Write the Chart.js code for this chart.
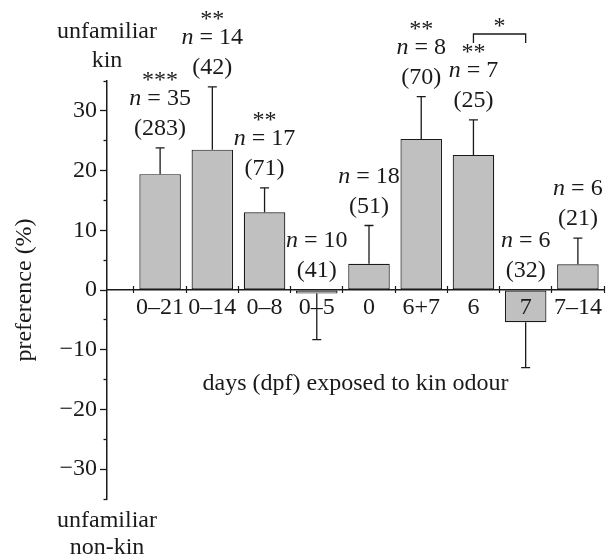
<!DOCTYPE html>
<html>
<head>
<meta charset="utf-8">
<script src="https://cdn.jsdelivr.net/npm/chart.js@4.4.1/dist/chart.umd.min.js"></script>
<style>
  html, body { margin: 0; padding: 0; background: #fff; }
  canvas { display: block; }
</style>
</head>
<body>
<canvas id="kinChart" width="608" height="557"></canvas>
<script>
// values
const categories = ["0–21", "0–14", "0–8", "0–5", "0", "6+7", "6", "7", "7–14"];
const preference = [19.4, 23.5, 13.0, -0.6, 4.4, 25.3, 22.6, -5.4, 4.3];
const errors = [4.4, 10.5, 4.1, 7.7, 6.4, 7.1, 5.9, 7.6, 4.4];
const nFish = ["35", "14", "17", "10", "18", "8", "7", "6", "6"];
const nTrials = ["283", "42", "71", "41", "51", "70", "25", "32", "21"];
const stars = ["***", "**", "**", "", "", "**", "**", "", ""];
const yTicks = [-30, -20, -10, 0, 10, 20, 30];
const yMinorTicks = [-35, -25, -15, -5, 5, 15, 25, 35];
const bracketPair = [6, 7];
const bracketStars = "*";

const INK = "#1a1a1a";
const SERIF = '"Liberation Serif", "Times New Roman", serif';
const FONT = "24px " + SERIF;
const ITALIC = "italic 24px " + SERIF;
const xMin = -1.017;
const xMax = 8.5;

Chart.defaults.font.family = SERIF;
Chart.defaults.font.size = 24;
Chart.defaults.color = INK;

function minus(v) {
  return v < 0 ? "\u2212" + Math.abs(v) : String(v);
}

function setTicks(list) {
  return function (scale) {
    scale.ticks = list.map(function (v) { return { value: v }; });
  };
}

function drawN(ctx, n, cx, cy) {
  ctx.font = ITALIC;
  const w1 = ctx.measureText("n").width;
  ctx.font = FONT;
  const rest = " = " + n;
  const w2 = ctx.measureText(rest).width;
  let left = cx - (w1 + w2) / 2;
  ctx.textAlign = "left";
  ctx.font = ITALIC;
  ctx.fillText("n", left, cy);
  ctx.font = FONT;
  ctx.fillText(rest, left + w1, cy);
}

const errorBars = {
  id: "errorBars",
  afterDatasetsDraw(chart) {
    const { ctx, scales: { x, y } } = chart;
    ctx.save();
    ctx.strokeStyle = INK;
    ctx.lineWidth = 1.3;
    preference.forEach(function (v, i) {
      const px = x.getPixelForValue(i);
      const end = v >= 0 ? v + errors[i] : v - errors[i];
      const y0 = y.getPixelForValue(v);
      const y1 = y.getPixelForValue(end);
      ctx.beginPath();
      ctx.moveTo(px, y0);
      ctx.lineTo(px, y1);
      ctx.moveTo(px - 4.5, y1);
      ctx.lineTo(px + 4.5, y1);
      ctx.stroke();
    });
    ctx.restore();
  }
};

const annotations = {
  id: "annotations",
  afterDraw(chart) {
    const { ctx, scales: { x, y }, chartArea } = chart;
    ctx.save();
    ctx.fillStyle = INK;
    ctx.strokeStyle = INK;
    ctx.textBaseline = "middle";

    preference.forEach(function (v, i) {
      const px = x.getPixelForValue(i);
      const anchor = v >= 0 ? y.getPixelForValue(v + errors[i]) : y.getPixelForValue(0);
      const countY = anchor - 19;
      const nY = countY - 30;
      drawN(ctx, nFish[i], px, nY);
      ctx.font = FONT;
      ctx.textAlign = "center";
      ctx.fillText("(" + nTrials[i] + ")", px, countY);
      if (stars[i]) ctx.fillText(stars[i], px, nY - 18);
    });

    // bracket between "6" and "7"
    const bx1 = x.getPixelForValue(bracketPair[0]);
    const bx2 = x.getPixelForValue(bracketPair[1]);
    const by = chartArea.top - 47;
    ctx.lineWidth = 1.3;
    ctx.beginPath();
    ctx.moveTo(bx1, by + 9);
    ctx.lineTo(bx1, by);
    ctx.lineTo(bx2, by);
    ctx.lineTo(bx2, by + 9);
    ctx.stroke();
    ctx.font = FONT;
    ctx.textAlign = "center";
    ctx.fillText(bracketStars, (bx1 + bx2) / 2, by - 7);

    // end labels of the y axis
    const ax = chartArea.left;
    ctx.fillText("unfamiliar", ax, chartArea.top - 49);
    ctx.fillText("kin", ax, chartArea.top - 20);
    ctx.fillText("unfamiliar", ax, chartArea.bottom + 22);
    ctx.fillText("non-kin", ax, chartArea.bottom + 49);
    ctx.restore();
  }
};

new Chart(document.getElementById("kinChart").getContext("2d"), {
  type: "bar",
  data: {
    datasets: [
      {
        data: categories.map(function (c, i) { return { x: i, y: preference[i] }; }),
        xAxisID: "x",
        yAxisID: "y",
        backgroundColor: "#c0c0c0",
        borderColor: INK,
        borderWidth: 1.2,
        borderSkipped: false,
        barPercentage: 0.795,
        categoryPercentage: 1
      }
    ]
  },
  options: {
    responsive: false,
    animation: false,
    layout: { padding: { left: 0, top: 81, right: 4, bottom: 58 } },
    plugins: { legend: { display: false }, tooltip: { enabled: false } },
    scales: {
      // tick marks between the categories, crossing the zero line
      x: {
        type: "linear",
        min: xMin,
        max: xMax,
        offset: false,
        position: { y: 0.6 },
        afterBuildTicks: setTicks([-0.5, 0.5, 1.5, 2.5, 3.5, 4.5, 5.5, 6.5, 7.5, 8.5]),
        ticks: { callback: function () { return ""; } },
        grid: { offset: false, drawOnChartArea: false, tickLength: 7, tickWidth: 1.2, tickColor: INK },
        border: { display: false }
      },
      // category labels + zero line; labels drawn over the bars so "7" shows inside its bar
      xl: {
        type: "linear",
        axis: "x",
        min: xMin,
        max: xMax,
        offset: false,
        position: { y: 0 },
        afterBuildTicks: setTicks(categories.map(function (c, i) { return i; })),
        ticks: {
          z: 1,
          autoSkip: false,
          maxRotation: 0,
          padding: 3,
          callback: function (v) { return categories[v] !== undefined ? categories[v] : ""; }
        },
        grid: { display: false, drawTicks: false },
        border: { display: true, color: INK, width: 1.5 },
        title: {
          display: true,
          text: "days (dpf) exposed to kin odour",
          padding: { top: 45, bottom: 0 }
        }
      },
      y: {
        type: "linear",
        position: "left",
        min: -35,
        max: 35,
        afterBuildTicks: setTicks(yTicks),
        afterFit: function (scale) { scale.width = 107; },
        ticks: { padding: 3, callback: function (v) { return minus(v); } },
        grid: { drawOnChartArea: false, tickLength: 7, tickWidth: 1.3, tickColor: INK },
        border: { display: true, color: INK, width: 1.5 },
        title: { display: true, text: "preference (%)", padding: { top: 10, bottom: 0 } }
      },
      y2: {
        type: "linear",
        axis: "y",
        min: -35,
        max: 35,
        position: { x: xMin },
        afterBuildTicks: setTicks(yMinorTicks),
        ticks: { callback: function () { return ""; } },
        grid: { drawOnChartArea: false, tickLength: 3.5, tickWidth: 1.3, tickColor: INK },
        border: { display: false }
      }
    }
  },
  plugins: [errorBars, annotations]
});
</script>
</body>
</html>
